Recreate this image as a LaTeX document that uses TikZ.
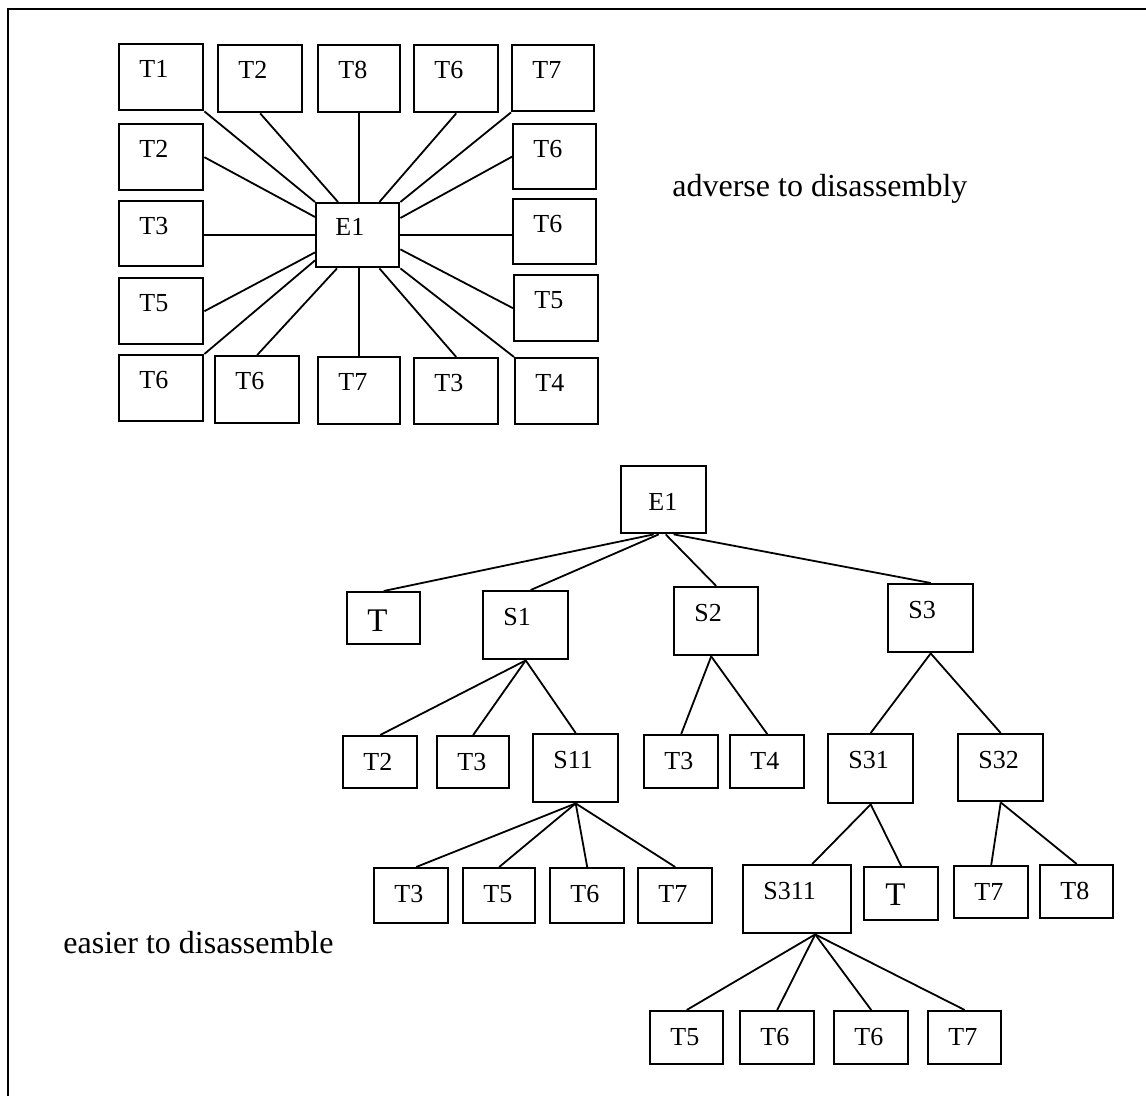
\documentclass[tikz,border=0pt]{standalone}
\usepackage{fontspec}
\setmainfont{Liberation Serif}
\usetikzlibrary{calc}
\tikzset{
  box/.style={draw, line width=1.2pt, inner sep=0pt, anchor=north west},
  lbl/.style={anchor=base west, inner sep=0pt, font=\fontsize{13}{15}\selectfont},
  biglbl/.style={anchor=base west, inner sep=0pt, font=\fontsize{16.5}{19}\selectfont},
  note/.style={anchor=base west, inner sep=0pt, font=\fontsize{16}{19}\selectfont},
  wire/.style={line width=0.9pt},
  frame/.style={line width=1.3pt},
}
% a box given by its corners (in pixel units) with its label in the upper left
\newcommand{\pbox}[6]{%
  \node[box, minimum width={(#4-#2)*0.5pt}, minimum height={(#5-#3)*0.5pt}] (#1) at (#2,#3) {};
  \node[lbl] (#1-t) at (#2+21,#3+35) {#6};
}
\begin{document}
\begin{tikzpicture}[x=0.5pt, y=-0.5pt]
\useasboundingbox (0,0) rectangle (1146,1096);
% open frame: left and top edges
\coordinate (fb) at (8,1096);
\coordinate (fc) at (8,9);
\coordinate (fr) at (1146,9);
\draw[frame] (fb) -- (fc) -- (fr);

% ---------- star: every part attached to E1 ----------
\node[box, minimum width={83*0.5pt}, minimum height={64*0.5pt}] (E) at (315,202) {};
\node[lbl] (E-t) at (335,236) {E1};

\pbox{a1}{118}{43}{202}{109}{T1}
\pbox{a2}{217}{44}{301}{111}{T2}
\pbox{a3}{317}{44}{399}{111}{T8}
\pbox{a4}{413}{44}{497}{111}{T6}
\pbox{a5}{511}{44}{593}{110}{T7}
\pbox{b1}{118}{123}{202}{189}{T2}
\pbox{b2}{118}{200}{202}{265}{T3}
\pbox{b3}{118}{277}{202}{343}{T5}
\pbox{b4}{118}{354}{202}{420}{T6}
\pbox{c1}{214}{355}{298}{422}{T6}
\pbox{c2}{317}{356}{399}{423}{T7}
\pbox{c3}{413}{357}{497}{423}{T3}
\pbox{c4}{514}{357}{597}{423}{T4}
\pbox{d1}{512}{123}{595}{188}{T6}
\pbox{d2}{512}{198}{595}{263}{T6}
\pbox{d3}{513}{274}{597}{340}{T5}

\draw[wire] (a1.south east) -- (E.north west);
\draw[wire] (b1.east) -- ($(E.north west)+(0,15)$);
\draw[wire] (a2.south) -- ($(E.north west)+(23,0)$);
\draw[wire] (a3.south) -- (a3.south |- E.north);
\draw[wire] (a4.south) -- ($(E.north east)+(-21,0)$);
\draw[wire] (a5.south west) -- (E.north east);
\draw[wire] (d1.west) -- ($(E.north east)+(0,16)$);
\draw[wire] (E.east) -- (E.east -| d2.west);
\draw[wire] (E.west) -- (E.west -| b2.east);
\draw[wire] (d3.west) -- ($(E.south east)+(0,-19)$);
\draw[wire] (c4.north west) -- (E.south east);
\draw[wire] (c3.north) -- ($(E.south east)+(-21,0)$);
\draw[wire] (c2.north) -- (c2.north |- E.south);
\draw[wire] (c1.north) -- ($(E.south west)+(22,0)$);
\draw[wire] (b4.north east) -- ($(E.south west)+(0,-8)$);
\draw[wire] (b3.east) -- ($(E.south west)+(0,-16)$);

\node[note] (adv) at (672,197) {adverse to disassembly};

% ---------- tree: E1 split into subassemblies ----------
\node[box, minimum width={85*0.5pt}, minimum height={67*0.5pt}] (R) at (620,465) {};
\node[lbl] (R-t) at (648,510) {E1};

\node[box, minimum width={73*0.5pt}, minimum height={52*0.5pt}] (t0) at (346,591) {};
\node[biglbl] (t0-t) at (367,631) {T};
\pbox{s1}{482}{590}{567}{658}{S1}
\pbox{s2}{673}{586}{757}{654}{S2}
\pbox{s3}{887}{583}{972}{651}{S3}

\pbox{u1}{342}{735}{416}{787}{T2}
\pbox{u2}{436}{735}{508}{787}{T3}
\pbox{s11}{532}{733}{617}{801}{S11}
\pbox{u3}{643}{734}{717}{787}{T3}
\pbox{u4}{729}{734}{803}{787}{T4}
\pbox{s31}{827}{733}{912}{802}{S31}
\pbox{s32}{957}{733}{1042}{800}{S32}

\pbox{v1}{373}{867}{447}{922}{T3}
\pbox{v2}{462}{867}{534}{922}{T5}
\pbox{v3}{549}{867}{623}{922}{T6}
\pbox{v4}{637}{867}{711}{922}{T7}
\pbox{s311}{742}{864}{850}{932}{S311}
\node[box, minimum width={74*0.5pt}, minimum height={53*0.5pt}] (w1) at (863,866) {};
\node[biglbl] (w1-t) at (885,905) {T};
\pbox{w2}{953}{865}{1027}{917}{T7}
\pbox{w3}{1039}{864}{1112}{917}{T8}

\pbox{z1}{649}{1010}{722}{1063}{T5}
\pbox{z2}{739}{1010}{813}{1063}{T6}
\pbox{z3}{833}{1010}{907}{1063}{T6}
\pbox{z4}{927}{1010}{1000}{1063}{T7}

\draw[wire] ($(R.south)+(-10,0)$) -- (t0.north);
\draw[wire] ($(R.south)+(-5,0)$) -- ($(s1.north)+(5,0)$);
\draw[wire] ($(R.south)+(2,0)$) -- (s2.north);
\draw[wire] ($(R.south)+(10,0)$) -- (s3.north);

\draw[wire] (s1.south) -- (u1.north);
\draw[wire] (s1.south) -- (u2.north);
\draw[wire] (s1.south) -- (s11.north);
\draw[wire] ($(s2.south)+(-5,0)$) -- (u3.north);
\draw[wire] ($(s2.south)+(-5,0)$) -- (u4.north);
\draw[wire] (s3.south) -- (s31.north);
\draw[wire] (s3.south) -- (s32.north);

\draw[wire] (s11.south) -- ($(v1.north)+(5,0)$);
\draw[wire] (s11.south) -- (v2.north);
\draw[wire] (s11.south) -- (v3.north);
\draw[wire] (s11.south) -- (v4.north);
\draw[wire] (s31.south) -- ($(s311.north)+(15,0)$);
\draw[wire] (s31.south) -- (w1.north);
\draw[wire] (s32.south) -- (w2.north);
\draw[wire] (s32.south) -- (w3.north);

\draw[wire] ($(s311.south)+(18,0)$) -- (z1.north);
\draw[wire] ($(s311.south)+(18,0)$) -- (z2.north);
\draw[wire] ($(s311.south)+(18,0)$) -- (z3.north);
\draw[wire] ($(s311.south)+(18,0)$) -- (z4.north);

\node[note] (eas) at (63,953) {easier to disassemble};
\end{tikzpicture}
\end{document}
